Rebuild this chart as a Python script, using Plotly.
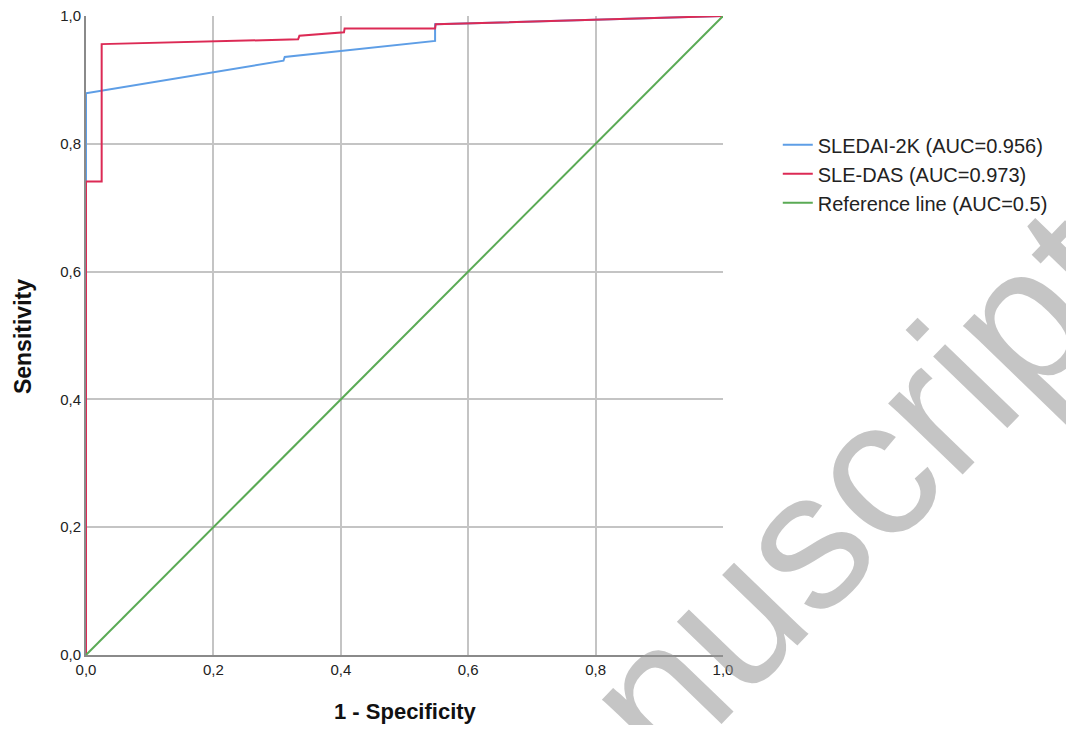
import plotly.graph_objects as go

# ROC curve points
sledai_fpr = [0.0, 0.0, 0.310, 0.312, 0.548, 0.548, 1.0]
sledai_tpr = [0.0, 0.879, 0.930, 0.936, 0.961, 0.987, 1.0]

sledas_fpr = [0.0, 0.0, 0.0246, 0.0246, 0.333, 0.335, 0.405, 0.406, 0.548, 0.549, 1.0]
sledas_tpr = [0.0, 0.741, 0.741, 0.956, 0.9635, 0.969, 0.9745, 0.9806, 0.9806, 0.987, 1.0]

ref_x = [0.0, 1.0]
ref_y = [0.0, 1.0]

names = ["SLEDAI-2K (AUC=0.956)", "SLE-DAS (AUC=0.973)", "Reference line (AUC=0.5)"]
tick_vals = [0.0, 0.2, 0.4, 0.6, 0.8, 1.0]
x_title = "1 - Specificity"
y_title = "Sensitivity"

FONT = "Liberation Sans, Arial"

fig = go.Figure()
fig.add_trace(go.Scatter(x=sledai_fpr, y=sledai_tpr, mode="lines", name=names[0],
                         line=dict(color="#5e9ee6", width=2)))
fig.add_trace(go.Scatter(x=sledas_fpr, y=sledas_tpr, mode="lines", name=names[1],
                         line=dict(color="#dc2a55", width=2)))
fig.add_trace(go.Scatter(x=ref_x, y=ref_y, mode="lines", name=names[2],
                         line=dict(color="#5aaa55", width=2)))

axis_common = dict(
    range=[0, 1], tickvals=tick_vals, tickformat=".1f",
    showgrid=True, gridcolor="#c4c4c4", gridwidth=1.5,
    showline=True, linecolor="#8a8a8a", linewidth=2,
    zeroline=False, ticks="", ticklabeloverflow="allow", automargin=False,
    tickfont=dict(family=FONT, size=15, color="#222222"),
)
fig.update_xaxes(**axis_common)
fig.update_yaxes(**axis_common)

# axis titles
fig.add_annotation(text="<b>" + x_title + "</b>", xref="paper", yref="paper",
                   x=0.502, y=-0.088, xanchor="center", yanchor="middle",
                   showarrow=False,
                   font=dict(family=FONT, size=22, color="#111111"))
fig.add_annotation(text="<b>" + y_title + "</b>", xref="paper", yref="paper",
                   x=-0.099, y=0.499, xanchor="center", yanchor="middle",
                   showarrow=False, textangle=-90,
                   font=dict(family=FONT, size=23, color="#111111"))

# watermark
fig.add_annotation(text="manuscript", xref="paper", yref="paper",
                   x=1.06, y=0.11, xanchor="center", yanchor="middle",
                   showarrow=False, textangle=-46,
                   font=dict(family=FONT, size=195,
                             color="rgba(150,150,150,0.55)"))

fig.update_layout(
    width=1058, height=717,
    margin=dict(l=78, r=343, t=8, b=70),
    plot_bgcolor="white", paper_bgcolor="white",
    separators=",.",
    showlegend=True,
    legend=dict(x=1.086, y=0.829, xanchor="left", yanchor="top",
                font=dict(family=FONT, size=20, color="#222222"),
                bgcolor="rgba(0,0,0,0)", tracegroupgap=0, itemwidth=30),
)

fig.write_html("out.html")
